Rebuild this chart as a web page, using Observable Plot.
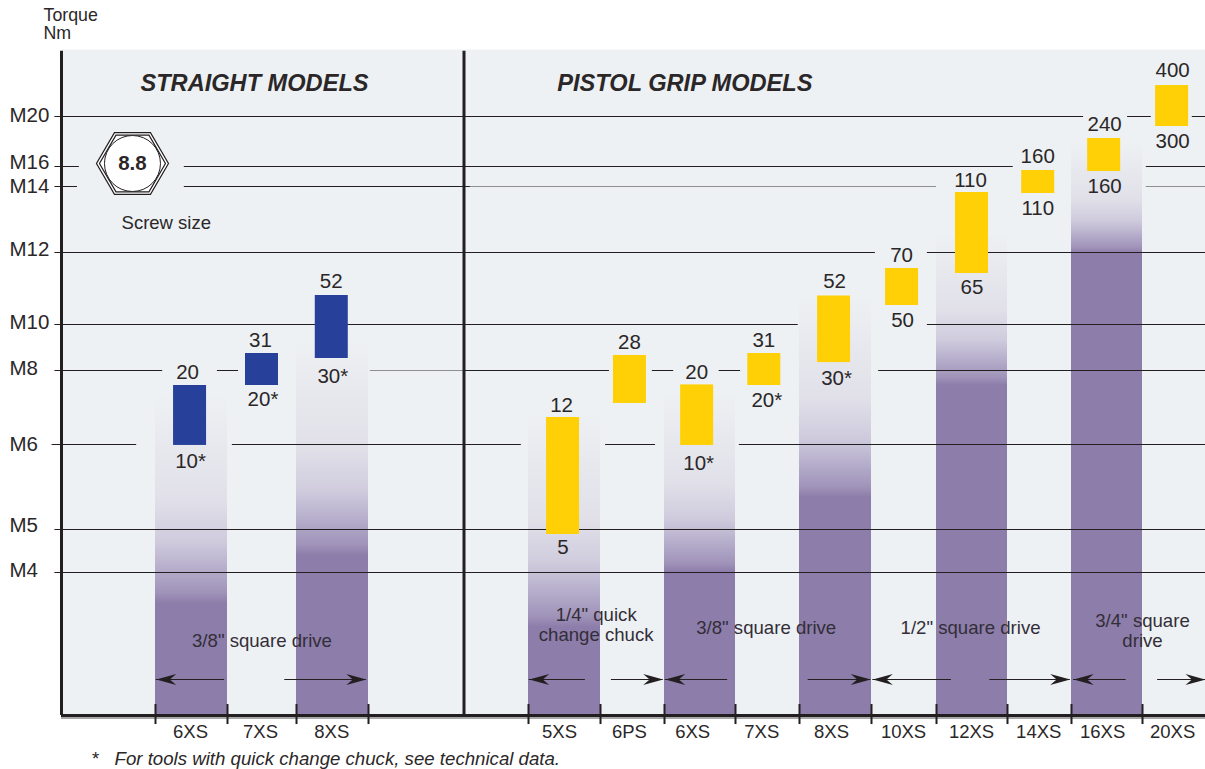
<!DOCTYPE html>
<html>
<head>
<meta charset="utf-8">
<style>html,body{margin:0;padding:0;background:#fff}svg{display:block}</style>
<script src="https://cdn.jsdelivr.net/npm/d3@7"></script>
<script src="https://cdn.jsdelivr.net/npm/@observablehq/plot@0.6"></script>
</head>
<body>
<div id="chart"></div>
<script>
// ---------- data ----------
const tools      = ["6XS","7XS","8XS","5XS","6PS","6XS","7XS","8XS","10XS","12XS","14XS","16XS","20XS"];
const slotCentre = [0.48,1.5,2.49,5.48,6.46,7.46,8.45,9.48,10.47,11.5,12.48,13.46,14.47];
const barHigh    = [20,31,52,12,30.6,20.2,31,51.9,70,110,160,240,400];
const barLow     = [9.95,20,30,5,14,9.95,20,28.3,50,65,109.5,157.8,300];
const labelHigh  = ["20","31","52","12","28","20","31","52","70","110","160","240","400"];
const labelLow   = ["10*","20*","30*","5","","10*","20*","30*","50","65","110","160","300"];
const straightCount = 3;

const screwNames  = ["M20","M16","M14","M12","M10","M8","M6","M5","M4"];
const screwTorque = [340,170,125,80,42,25,10,5.5,3];

const columnFrom = [0,2,5,7,9,11,13];
const columnTo   = [1,3,6,8,10,12,14];
const columnFade = [15.7,34.8,12.3,16.7,51,88.5,222.5];
const columnFull = [2.35,3.89,1.85,3,7.2,20,79.5];

const slotEdges = [0,1,2,3,5,6,7,8,9,10,11,12,13,14];

const driveNames = ['3/8" square drive','1/4" quick\nchange chuck','3/8" square drive','1/2" square drive','3/4" square\ndrive'];
const driveSlot  = [1.5,5.94,8.48,11.48,14];
const driveY     = [1.58,1.9,1.85,1.85,1.79];

// span arrows: shaft tail slot, arrow tip slot
const arrowTail = [0.96,1.83,5.79,6.17,7.89,9.12,11.21,11.75,13.77,14.24];
const arrowTip  = [0.01,2.97,5.01,6.98,7.01,9.99,10.02,12.98,13.03,15];

// gridline pieces per screw size
const pieces = {
  M20:[[-1.07,13.17],[13.79,14.14],[14.79,15]],
  M16:[[-1.07,-0.81],[0.40,12.09],[14.06,15]],
  M14:[[-1.07,-0.83],[0.40,4.10]],
  M12:[[-1.07,10.06],[10.86,15]],
  M10:[[-1.07,8.98],[10.86,15]],
  M8:[[-1.07,0.10],[0.86,1.16],[4.02,6.14],[6.81,7.13],[7.77,8.08],[10.11,15]],
  M6:[[-1.10,-0.20],[1.07,4.89],[6.08,6.86],[8.06,15]],
  M5:[[-1.07,15]],
  M4:[[-1.07,15]]
};
const fadedPieces = {M14:[[4.10,11],[14.06,15]],M8:[[3.02,4.02]]};

// ---------- scales ----------
const xSlots = [-1,0,1,2,3,4,5,6,7,8,9,10,11,12,13,14,15];
const xRange = [61,155,227,296,368,463.5,528,600,664,735,799,871,936,1007,1071,1142,1205];
const yTorque = [0,3,5,5.5,10,12,14,20,25,30,31,42,50,52,65,70,80,110,125,160,170,240,300,340,400,500];
const yRange  = [715,572,534,529,444,417,403,385,370,358,353,324,305,295,273,268,252,192,186,170,166,138,126,116,85,49];

// ---------- label nudges ----------
const highDx = [-2.5,-1.5,-0.5,-1.5,-0.5,-0.5,-0.5,0.5,-0.5,-1.5,-0.5,0.5,0.5];
const highDy = [-13,-13,-14,-12,-13,-12,-13,-15,-13,-12,-14,-14,-15];
const lowDx  = [0.5,1,1,0,0,1.5,2.5,2.5,0.5,0,-0.5,0.5,0.5];
const lowDy  = [16,14,18,13,0,18,15,16,15,14,15,15,15];
const tickDx = [0.5,-1.5,0,-3.5,-0.5,-4.5,-2.5,-2.5,1.5,-0.5,0.5,-1.5,0.5];
const screwDy = [-1,-4,0,-3,-2,-2,0,-4,-2];

// ---------- styling ----------
const ink = "#2b2728";
const font = "Liberation Sans";
const panel = "#edf1f3";
const purple = "#8c7daa";
const blue = "#27409a";
const yellow = "#ffd005";
const fadeStops = [[0,"#edf0f3"],[0.5,"#e1e0e9"],[0.7,"#cfcbdd"],[0.85,"#b2aac9"],[0.95,"#a093b9"],[1,purple]];

const bars = tools.map((tool,i)=>({tool,c:slotCentre[i],hi:barHigh[i],lo:barLow[i],i,
  fill:i<straightCount?blue:yellow}));
const columns = columnFrom.map((from,i)=>({from,to:columnTo[i],fade:columnFade[i],full:columnFull[i],id:"col"+i}));
const rules = Object.entries(pieces).flatMap(([n,p])=>p.map(([a,b])=>({a,b,y:screwTorque[screwNames.indexOf(n)]})));
const fadedRules = Object.entries(fadedPieces).flatMap(([n,p])=>p.map(([a,b])=>({a,b,y:screwTorque[screwNames.indexOf(n)]})));
const arrows = arrowTail.map((tail,i)=>({tail,tip:arrowTip[i],rot:arrowTip[i]>tail?0:180}));

const arrowHead = {draw(ctx,size){
  const l=Math.sqrt(size/Math.PI);
  ctx.moveTo(0,0);ctx.lineTo(-l,-l*0.27);ctx.lineTo(-l*0.68,0);ctx.lineTo(-l,l*0.27);ctx.closePath();
}};
const hexagon = {draw(ctx,size){
  const r=Math.sqrt(size/Math.PI);
  for(let k=0;k<6;k++){const a=k*Math.PI/3;const px=r*Math.cos(a),py=r*Math.sin(a)*0.99;
    k?ctx.lineTo(px,py):ctx.moveTo(px,py);}
  ctx.closePath();
}};

const T = (o)=>({fontFamily:font,fill:ink,...o});
const hexAt = {x:[-0.245],y:[177.5]};

const svg = Plot.plot({
  width:1205,height:769,
  marginLeft:61,marginRight:0,marginTop:49,marginBottom:54,
  style:{fontFamily:font,background:"#fff"},
  x:{type:"linear",domain:xSlots,range:xRange,axis:null},
  y:{type:"linear",domain:yTorque,range:yRange,axis:null},
  marks:[
    Plot.frame({fill:panel,stroke:"none"}),
    ...columns.map(c=>Plot.rect([c],{x1:"from",x2:"to",y1:0,y2:"fade",fill:`url(#${c.id})`})),
    Plot.ruleY(rules,{x1:"a",x2:"b",y:"y",stroke:"#231f20",strokeWidth:1}),
    Plot.ruleY(fadedRules,{x1:"a",x2:"b",y:"y",stroke:"#8f8f8f",strokeWidth:1.2}),
    Plot.rect(bars,{x1:"c",x2:"c",y1:"lo",y2:"hi",insetLeft:-16.5,insetRight:-16.5,fill:"fill"}),
    // axes
    Plot.ruleY([-0.05],{x1:-1,x2:15,stroke:"#a8a8a8",strokeWidth:2}),
    Plot.ruleY([0],{x1:-1,x2:15,stroke:"#231f20",strokeWidth:3}),
    Plot.ruleX([-1,4],{y1:0,y2:495,stroke:"#231f20",strokeWidth:3}),
    Plot.ruleX(slotEdges,{y1:-0.19,y2:0.23,stroke:"#231f20",strokeWidth:2}),
    // span arrows
    Plot.ruleY(arrows,{x1:"tail",x2:"tip",y:0.755,stroke:"#231f20",strokeWidth:1}),
    Plot.dot(arrows,{x:"tip",y:0.755,r:20,symbol:arrowHead,rotate:"rot",fill:"#231f20",stroke:"none"}),
    // value labels
    ...bars.map((b,i)=>Plot.text([b],{x:"c",y:"hi",text:()=>labelHigh[i],dx:highDx[i],dy:highDy[i],...T({fontSize:20.5})})),
    ...bars.filter((b,i)=>labelLow[i]).map(b=>Plot.text([b],{x:"c",y:"lo",text:()=>labelLow[b.i],dx:lowDx[b.i],dy:lowDy[b.i],...T({fontSize:20.5})})),
    // tool names
    ...bars.map((b,i)=>Plot.text([b],{x:"c",text:"tool",frameAnchor:"bottom",lineAnchor:"middle",dx:tickDx[i],dy:17,...T({fontSize:18.5})})),
    // screw sizes
    ...screwNames.map((n,i)=>Plot.text([n],{y:[screwTorque[i]],text:[n],frameAnchor:"left",textAnchor:"start",dx:-52,dy:screwDy[i],...T({fontSize:20.5})})),
    // drive labels
    ...driveNames.map((n,i)=>Plot.text([n],{x:[driveSlot[i]],y:[driveY[i]],text:[n],lineHeight:1.08,...T({fontSize:18.6,fill:"#332e38"})})),
    // hexagon legend
    Plot.dot([0],{...hexAt,r:36,symbol:hexagon,fill:"#fff",stroke:"#231f20",strokeWidth:1.2}),
    Plot.dot([0],{...hexAt,r:33,symbol:hexagon,fill:"#fff",stroke:"#231f20",strokeWidth:1.2}),
    Plot.dot([0],{...hexAt,r:28,fill:"#fff",stroke:"#231f20",strokeWidth:1}),
    Plot.text(["8.8"],{...hexAt,text:["8.8"],...T({fontSize:20.5,fontWeight:"bold"})}),
    Plot.text(["Screw size"],{x:[0.15],y:[94.6],text:["Screw size"],...T({fontSize:18.5})}),
    // headings
    Plot.text(["STRAIGHT MODELS"],{x:[-0.16],y:[405.7],text:["STRAIGHT MODELS"],textAnchor:"start",...T({fontSize:23.6,fontWeight:"bold",fontStyle:"italic"})}),
    Plot.text(["PISTOL GRIP MODELS"],{x:[5.40],y:[405.7],text:["PISTOL GRIP MODELS"],textAnchor:"start",...T({fontSize:23.6,fontWeight:"bold",fontStyle:"italic"})}),
    Plot.text(["Torque\nNm"],{text:["Torque\nNm"],frameAnchor:"top-left",textAnchor:"start",lineAnchor:"middle",lineHeight:1.01,dx:-18,dy:-25,...T({fontSize:17.8})}),
    // footnote
    Plot.text(["*"],{text:["*"],frameAnchor:"bottom-left",textAnchor:"middle",lineAnchor:"middle",dx:34,dy:44,...T({fontSize:18.65})}),
    Plot.text(["For tools with quick change chuck, see technical data."],{text:["For tools with quick change chuck, see technical data."],frameAnchor:"bottom-left",textAnchor:"start",lineAnchor:"middle",dx:53,dy:44,...T({fontSize:18.65,fontStyle:"italic"})})
  ]
});

// gradients for the fading columns
const yPx = d3.scaleLinear(yTorque,yRange);
const defs = d3.create("svg:defs");
columns.forEach(c=>{
  const top=yPx(c.fade),bottom=yPx(0),full=yPx(c.full);
  const g=defs.append("linearGradient").attr("id",c.id).attr("x1",0).attr("x2",0).attr("y1",0).attr("y2",1);
  const k=(full-top)/(bottom-top);
  fadeStops.forEach(([o,col])=>g.append("stop").attr("offset",o*k).attr("stop-color",col));
  g.append("stop").attr("offset",1).attr("stop-color",purple);
});
svg.insertBefore(defs.node(),svg.firstChild);
document.getElementById("chart").append(svg);
</script>
</body>
</html>
